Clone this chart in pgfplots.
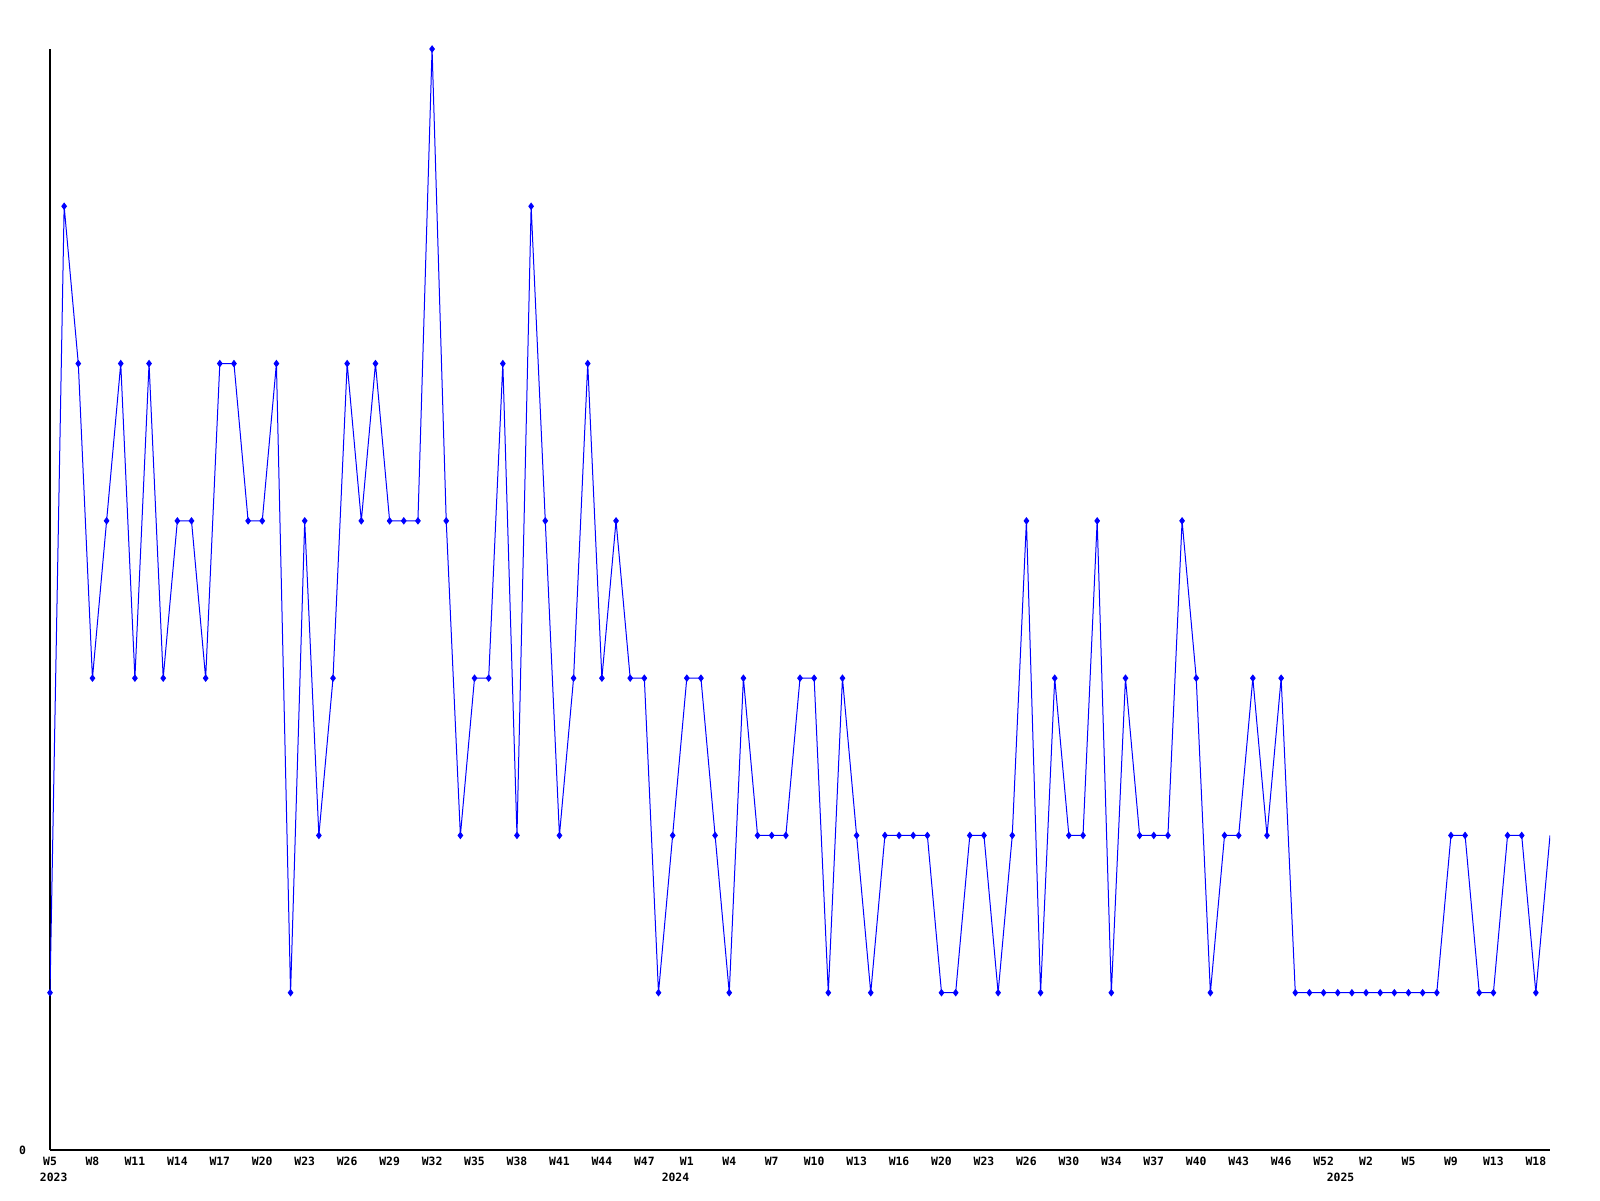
\documentclass[border=0pt]{standalone}
\usepackage{fontspec}
\setmonofont{DejaVu Sans Mono}
\usepackage{pgfplots}
\pgfplotsset{compat=1.18}
\begin{document}
\begin{tikzpicture}
\useasboundingbox (0,0) rectangle (800pt,600pt);
\begin{axis}[
  at={(25pt,25pt)}, anchor=south west,
  width=750pt, height=550.5pt, scale only axis,
  xmin=0, xmax=106, ymin=0, ymax=7,
  axis x line=bottom, axis y line=left,
  axis line style={-, black, line width=0.6pt},
  xtick={0,3,...,105},
  xticklabels={W5,W8,W11,W14,W17,W20,W23,W26,W29,W32,W35,W38,W41,W44,W47,W1,W4,W7,W10,W13,W16,W20,W23,W26,W30,W34,W37,W40,W43,W46,W52,W2,W5,W9,W13,W18},
  ytick={0}, yticklabels={0},
  major tick length=0pt,
  tick label style={font=\fontsize{5.7}{6}\selectfont\ttfamily\bfseries},
  xticklabel style={anchor=center, yshift=-5.5pt},
  yticklabel style={anchor=center, xshift=-13.75pt},
  clip mode=individual,
]
\addplot[blue, line width=0.5pt, mark=diamond*, mark size=1.5pt, mark options={solid, fill=blue}, mark indices={1,...,106}] coordinates {
(0,1)(1,6)(2,5)(3,3)(4,4)(5,5)(6,3)(7,5)(8,3)(9,4)
(10,4)(11,3)(12,5)(13,5)(14,4)(15,4)(16,5)(17,1)(18,4)(19,2)
(20,3)(21,5)(22,4)(23,5)(24,4)(25,4)(26,4)(27,7)(28,4)(29,2)
(30,3)(31,3)(32,5)(33,2)(34,6)(35,4)(36,2)(37,3)(38,5)(39,3)
(40,4)(41,3)(42,3)(43,1)(44,2)(45,3)(46,3)(47,2)(48,1)(49,3)
(50,2)(51,2)(52,2)(53,3)(54,3)(55,1)(56,3)(57,2)(58,1)(59,2)
(60,2)(61,2)(62,2)(63,1)(64,1)(65,2)(66,2)(67,1)(68,2)(69,4)
(70,1)(71,3)(72,2)(73,2)(74,4)(75,1)(76,3)(77,2)(78,2)(79,2)
(80,4)(81,3)(82,1)(83,2)(84,2)(85,3)(86,2)(87,3)(88,1)(89,1)
(90,1)(91,1)(92,1)(93,1)(94,1)(95,1)(96,1)(97,1)(98,1)(99,2)
(100,2)(101,1)(102,1)(103,2)(104,2)(105,1)(106,2)
};
\node[font=\fontsize{5.7}{6}\selectfont\ttfamily\bfseries, anchor=center, yshift=-13.5pt] at (axis cs:0.26,0) {2023};
\node[font=\fontsize{5.7}{6}\selectfont\ttfamily\bfseries, anchor=center, yshift=-13.5pt] at (axis cs:44.2,0) {2024};
\node[font=\fontsize{5.7}{6}\selectfont\ttfamily\bfseries, anchor=center, yshift=-13.5pt] at (axis cs:91.2,0) {2025};
\end{axis}
\end{tikzpicture}
\end{document}
